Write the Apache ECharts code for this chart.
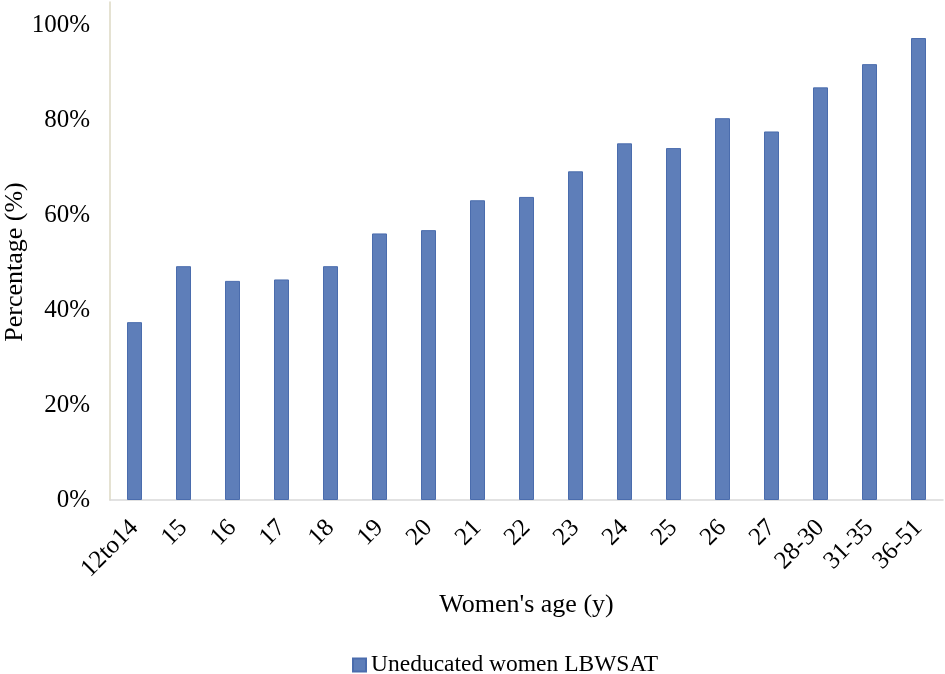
<!DOCTYPE html>
<html>
<head>
<meta charset="utf-8">
<script src="https://cdn.jsdelivr.net/npm/echarts@6/dist/echarts.min.js"></script>
<style>html,body{margin:0;padding:0;background:#fff}#c{width:945px;height:674px}</style>
</head>
<body>
<div id="c"></div>
<script>
const categories = ['12to14','15','16','17','18','19','20','21','22','23','24','25','26','27','28-30','31-35','36-51'];
const values = [37.5,49.3,46.2,46.5,49.3,56.2,56.9,63.2,63.9,69.3,75.2,74.2,80.5,77.7,87.0,91.9,97.4];
const yTicks = [0,20,40,60,80,100];
const seriesName = 'Uneducated women LBWSAT';
const xName = "Women's age (y)";
const yName = 'Percentage (%)';

const font = '"Liberation Serif", "Times New Roman", serif';
const chart = echarts.init(document.getElementById('c'), null, {renderer:'canvas'});
chart.setOption({
  animation:false,
  backgroundColor:'#fff',
  grid:{left:110,right:2,top:2,bottom:174,containLabel:false,outerBoundsMode:'none'},
  legend:{
    top:648, left:347,
    data:[seriesName],
    icon:'rect', itemWidth:13, itemHeight:13, itemGap:6,
    textStyle:{fontFamily:font,fontSize:23.5,color:'#000'}
  },
  xAxis:{
    type:'category', data:categories,
    name:xName, nameLocation:'middle', nameGap:92, nameMoveOverlap:false,
    nameTextStyle:{fontFamily:font,fontSize:26,color:'#000'},
    axisLine:{lineStyle:{color:'#d9d9d9',width:1.5}},
    axisTick:{show:false},
    axisLabel:{rotate:45,interval:0,margin:24,fontFamily:font,fontSize:25,color:'#000'}
  },
  yAxis:{
    type:'value', min:0, max:105, interval:20,
    name:yName, nameLocation:'middle', nameGap:82, nameRotate:90, nameMoveOverlap:false,
    nameTextStyle:{fontFamily:font,fontSize:26,color:'#000',padding:[0,22,0,0]},
    axisLine:{show:true,lineStyle:{color:'#dcd8c3',width:1.5}},
    axisTick:{show:false},
    splitLine:{show:false},
    axisLabel:{
      showMaxLabel:false, margin:20, fontFamily:font,fontSize:25,color:'#000',
      formatter:function(v){return yTicks.indexOf(v)>=0 ? v+'%' : '';}
    }
  },
  series:[{
    name:seriesName, type:'bar', data:values, barWidth:15,
    itemStyle:{color:'#5e7eb9',borderColor:'#4a6cad',borderWidth:1}
  }]
});
</script>
</body>
</html>
